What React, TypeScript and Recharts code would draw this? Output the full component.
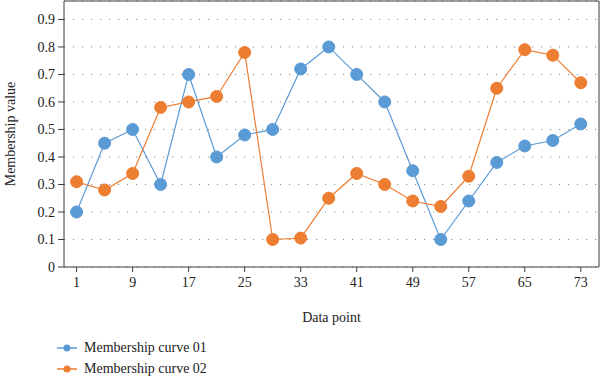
import React from 'react';
import { LineChart, Line, XAxis, YAxis, CartesianGrid, ReferenceLine } from 'recharts';

const dataPoints = [1, 5, 9, 13, 17, 21, 25, 29, 33, 37, 41, 45, 49, 53, 57, 61, 65, 69, 73];
const curve01 = [0.2, 0.45, 0.5, 0.3, 0.7, 0.4, 0.48, 0.5, 0.72, 0.8, 0.7, 0.6, 0.35, 0.1, 0.24, 0.38, 0.44, 0.46, 0.52];
const curve02 = [0.31, 0.28, 0.34, 0.58, 0.6, 0.62, 0.78, 0.1, 0.105, 0.25, 0.34, 0.3, 0.24, 0.22, 0.33, 0.65, 0.79, 0.77, 0.67];
const xTicks = [1, 9, 17, 25, 33, 41, 49, 57, 65, 73];
const yTicks = [0, 0.1, 0.2, 0.3, 0.4, 0.5, 0.6, 0.7, 0.8, 0.9];
const seriesNames = ['Membership curve 01', 'Membership curve 02'];

const BLUE = '#5b9bd5';
const ORANGE = '#ed7d31';
const AXIS = '#3a3a3a';
const FONT = "'Liberation Serif', serif";

const X_MIN = -0.8;
const X_MAX = 75.6;
const Y_MAX = 0.967;

const data = dataPoints.map((x, i) => ({ x, a: curve01[i], b: curve02[i] }));

const LegendRow = ({ color, label }: { color: string; label: string }) => (
  <div style={{ display: 'flex', alignItems: 'center', height: 21 }}>
    <svg width={24} height={12} style={{ marginRight: 5 }}>
      <line x1={2} y1={6} x2={22} y2={6} stroke={color} strokeWidth={1.5} />
      <circle cx={12} cy={6} r={3.5} fill={color} />
    </svg>
    <span style={{ fontSize: 14, color: '#222' }}>{label}</span>
  </div>
);

export default function App() {
  return (
    <div style={{ position: 'absolute', left: 0, top: 0, width: 600, height: 378, background: '#fff', fontFamily: FONT }}>
      <style>{`.recharts-wrapper text { font-family: ${FONT}; }`}</style>
      <LineChart
        width={600}
        height={378}
        data={data}
        style={{ fontFamily: FONT }}
        margin={{ top: 1, right: 1, left: 0, bottom: 81 }}
      >
        <CartesianGrid vertical={false} stroke="#8a8a8a" strokeDasharray="1.2 7.8" />
        <XAxis
          dataKey="x"
          type="number"
          domain={[X_MIN, X_MAX]}
          ticks={xTicks}
          height={30}
          stroke={AXIS}
          tickSize={5}
          tickMargin={5}
          tick={{ fill: '#222', fontSize: 14 }}
          label={{ value: 'Data point', position: 'insideBottom', offset: -25, fill: '#222', fontSize: 14 }}
        />
        <YAxis
          type="number"
          domain={[0, Y_MAX]}
          ticks={yTicks}
          width={64}
          stroke={AXIS}
          tickSize={6}
          tickMargin={3}
          tick={{ fill: '#222', fontSize: 14 }}
          label={{ value: 'Membership value', angle: -90, position: 'insideLeft', offset: 10, style: { textAnchor: 'middle' }, fill: '#222', fontSize: 14 }}
        />
        <ReferenceLine y={Y_MAX} stroke={AXIS} />
        <ReferenceLine x={X_MAX} stroke={AXIS} />
        <Line
          dataKey="a"
          name={seriesNames[0]}
          stroke={BLUE}
          strokeWidth={1.2}
          dot={{ r: 6, fill: BLUE, stroke: BLUE, strokeWidth: 1 }}
          isAnimationActive={false}
        />
        <Line
          dataKey="b"
          name={seriesNames[1]}
          stroke={ORANGE}
          strokeWidth={1.2}
          dot={{ r: 6, fill: ORANGE, stroke: ORANGE, strokeWidth: 1 }}
          isAnimationActive={false}
        />
      </LineChart>
      <div style={{ position: 'absolute', left: 55, top: 337 }}>
        <LegendRow color={BLUE} label={seriesNames[0]} />
        <LegendRow color={ORANGE} label={seriesNames[1]} />
      </div>
    </div>
  );
}
